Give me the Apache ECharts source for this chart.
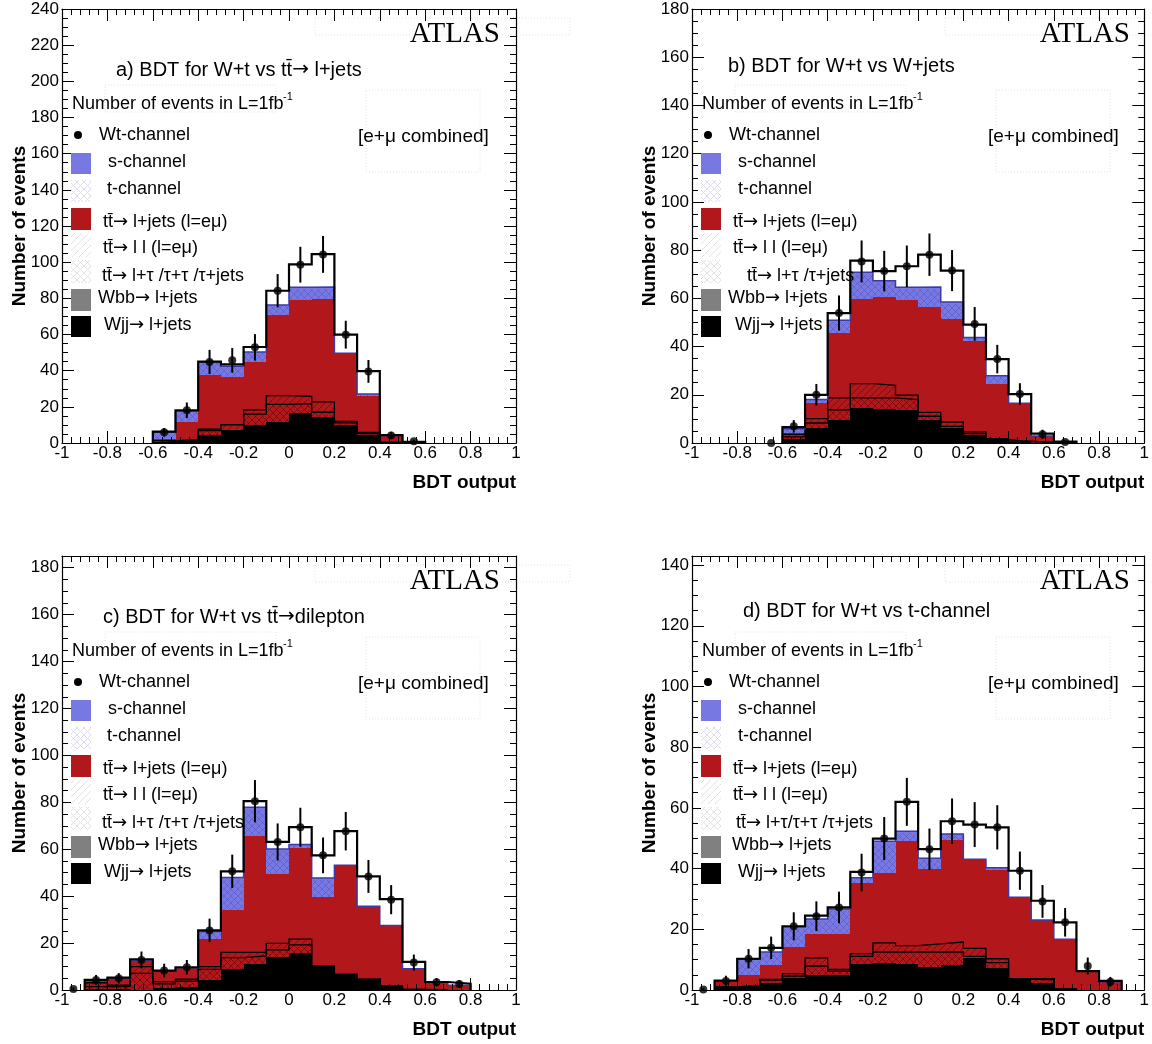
<!DOCTYPE html>
<html><head><meta charset="utf-8">
<script src="https://cdn.jsdelivr.net/npm/echarts@6/dist/echarts.min.js"></script>
<style>html,body{margin:0;padding:0;background:#fff}#c{width:1152px;height:1044px}</style>
</head><body><div id="c"></div><script>
// ---------------- DATA ----------------
const binLow = [-1.0,-0.9,-0.8,-0.7,-0.6,-0.5,-0.4,-0.3,-0.2,-0.1,0.0,0.1,0.2,0.3,0.4,0.5,0.6,0.7,0.8,0.9];
const binWidth = 0.1;
const xTickLabels = ['-1','-0.8','-0.6','-0.4','-0.2','0','0.2','0.4','0.6','0.8','1'];

// panel a) BDT for W+t vs ttbar -> l+jets
const aWjj  = [0,0,0,0,0.3,1.3,4.2,6.4,10.0,11.8,16.6,14.4,9.8,4.2,0.2,0,0,0,0,0];
const aWbb  = [0,0,0,0,0,0,0,0,0,0,0,0,0,0,0,0,0,0,0,0];
const aTtTau= [0,0,0,0,0.5,0.2,2.6,0.4,6.0,9.6,5.2,2.6,1.3,1.0,0.1,0,0,0,0,0];
const aTtLL = [0,0,0,0,0.5,0.3,0.9,3.3,2.4,4.8,4.0,5.7,0.9,0.7,0.1,0.1,0,0,0,0];
const aTtLJ = [0,0,0,0,1.1,9.6,30.1,26.2,26.6,44.6,53.3,56.7,37.4,19.9,3.7,0.4,0,0,0,0];
const aTch  = [0,0,0,0,3.2,5.5,6.2,5.5,4.6,4.7,6.0,5.9,0.1,1.0,0.1,0,0,0,0,0];
const aSch  = [0,0,0,0,0.4,0.6,0.8,0.7,0.7,0.8,1.0,1.0,0.1,0.3,0,0,0,0,0,0];
const aWt   = [0,0,0,0,0.3,0.6,0.2,1.0,2.8,7.9,12.7,18.2,10.3,12.7,0.1,0.1,0,0,0,0];
const aData = [null,null,null,null,5.9,18.1,44.8,45.7,52.9,84.2,98.6,104.3,59.9,39.6,4.2,0.9,null,null,null,null];
const aErr  = [0,0,0,0,2.4,4.3,6.7,6.8,7.3,9.2,9.9,10.2,7.7,6.3,2.0,0.9,0,0,0,0];

// panel b) BDT for W+t vs W+jets
const bWjj  = [0,0,0,0,1.5,6.2,9.4,14.5,14.2,13.8,9.4,6.2,3.5,1.1,0.5,0.1,0,0,0,0];
const bWbb  = [0,0,0,0,0,0,0,0,0,0,0,0,0,0,0,0,0,0,0,0];
const bTtTau= [0,0,0,0,1.0,2.1,4.4,4.2,4.5,4.2,1.7,0.7,0.4,0.3,0.1,0.1,0,0,0,0];
const bTtLL = [0,0,0,0,1.1,1.8,4.9,5.9,5.2,1.8,1.6,1.8,0.7,0.4,0.2,0.1,0.1,0,0,0];
const bTtLJ = [0,0,0,0,0.5,6.5,26.9,35.3,36.7,39.4,43.7,42.9,37.8,22.8,15.5,2.5,0.4,0,0,0];
const bTch  = [0,0,0,0,1.5,1.1,4.5,9.7,5.8,4.6,7.3,6.0,1.1,2.8,0.1,0.1,0,0,0,0];
const bSch  = [0,0,0,0,0.3,0.3,0.8,1.2,0.9,0.8,1.0,0.9,0.3,0.5,0.1,0,0,0,0,0];
const bWt   = [0,0,0,0,0.7,2.0,3.0,4.8,4.0,8.7,13.4,13.0,5.3,6.9,3.8,1.0,0.1,0,0,0];
const bData = [null,null,null,0,6.9,20.0,53.9,75.3,71.3,73.3,78.1,71.5,49.4,34.8,20.3,3.6,0.4,null,null,null];
const bErr  = [0,0,0,0,2.6,4.5,7.3,8.7,8.4,8.6,8.8,8.5,7.0,5.9,4.5,1.9,0.6,0,0,0];

// panel c) BDT for W+t vs ttbar -> dilepton
const cWjj  = [0,0.3,0.3,0,0.7,1.4,4.3,9.1,11.0,14.2,15.7,10.0,6.4,4.3,1.4,0.2,0,0,0,0];
const cWbb  = [0,0,0,0,0,0,0,0,0,0,0,0,0,0,0,0,0,0,0,0];
const cTtTau= [0,1.1,1.1,7.1,1.9,2.4,4.5,4.7,3.5,2.9,3.5,0,0.2,0.2,0.2,0.1,0,0,0,0];
const cTtLL = [0,1.7,0.7,2.9,1.0,0.8,1.2,2.2,1.5,2.8,2.5,0.3,0.1,0.1,0.1,0,0.1,0,0,0];
const cTtLJ = [0,0.6,2.7,2.7,4.4,4.9,11.7,18.2,49.8,29.5,38.8,29.2,46.4,31.0,25.7,8.7,3.0,2.0,0,0];
const cTch  = [0,0,0,0,0,0,2.7,12.6,10.9,9.7,1.2,7.4,0.1,0.1,0.1,0.1,0,0,0,0];
const cSch  = [0,0,0,0,0,0,0.5,1.2,1.2,1.0,0.3,0.8,0,0,0,0,0,0,0,0];
const cWt   = [0,0.6,0.5,0.4,0.3,0.2,0.5,2.6,2.6,3.0,7.4,9.7,14.5,12.7,11.2,2.9,0.3,0.7,0,0];
const cData = [0.4,4.3,5.0,12.8,8.3,9.7,25.4,50.6,80.5,63.1,69.4,57.4,67.7,48.4,38.5,11.7,3.3,2.6,null,null];
const cErr  = [0.6,2.1,2.2,3.6,2.9,3.1,5.0,7.1,9.0,7.9,8.3,7.6,8.2,7.0,6.2,3.4,1.8,1.6,0,0];

// panel d) BDT for W+t vs t-channel
const dWjj  = [0,0.8,1.1,2.4,4.0,4.8,4.8,8.7,9.0,8.7,7.7,8.4,10.6,7.2,3.2,2.4,0.2,0,0,0];
const dWbb  = [0,0,0,0,0,0,0,0,0,0,0,0,0,0,0,0,0,0,0,0];
const dTtTau= [0,0.1,0.2,0.9,0.6,3.1,1.4,2.4,3.5,3.8,4.8,4.2,0.5,1.8,0.3,1.0,0.1,0,0,0];
const dTtLL = [0,0.1,0.2,0.2,0.8,2.7,0.6,0.9,3.0,2.1,2.7,3.2,2.6,1.3,0.2,0.3,0.1,0,0,0];
const dTtLJ = [0,2.0,3.6,4.9,8.7,8.0,11.7,23.4,23.2,34.4,24.6,33.6,29.3,29.3,26.8,19.3,16.2,6.2,2.7,0];
const dTch  = [0,0,4.4,3.6,6.0,4.2,7.4,1.3,9.3,2.8,3.1,1.6,0.1,0.5,0.1,0.1,0.1,0,0,0];
const dSch  = [0,0,0.6,0.5,0.7,0.6,0.8,0.3,1.0,0.5,0.5,0.4,0,0.2,0,0,0,0,0,0];
const dWt   = [0,0.1,0.2,1.4,0.2,1.1,0.5,1.9,0.9,9.7,3.0,4.2,11.4,13.3,8.7,6.3,5.6,0,0.3,0];
const dData = [0.2,3.0,10.3,13.9,21.0,24.3,27.2,38.7,49.9,62.0,46.4,55.6,54.5,53.6,39.3,29.2,22.3,7.9,2.7,null];
const dErr  = [0.4,1.7,3.2,3.7,4.6,4.9,5.2,6.2,7.1,7.9,6.8,7.5,7.4,7.3,6.3,5.4,4.7,2.8,1.6,0];

const panelTitles = ['a) BDT for W+t vs tt\u0304\u2192 l+jets','b) BDT for W+t vs W+jets','c) BDT for W+t vs tt\u0304\u2192dilepton','d) BDT for W+t vs t-channel'];
const tauLabels = ['tt\u0304\u2192 l+\u03c4 /\u03c4+\u03c4 /\u03c4+jets','tt\u0304\u2192 l+\u03c4 /\u03c4+jets','tt\u0304\u2192 l+\u03c4 /\u03c4+\u03c4 /\u03c4+jets','tt\u0304\u2192 l+\u03c4/\u03c4+\u03c4 /\u03c4+jets'];
const legendNames = ['Wt-channel','s-channel','t-channel','tt\u0304\u2192 l+jets (l=e\u03bc)','tt\u0304\u2192 l l (l=e\u03bc)',null,'Wbb\u2192 l+jets','Wjj\u2192 l+jets'];
const yMaxes = [240,180,185,143];

// ---------------- LAYOUT / STYLE ----------------
const layout = [
  {left:62, top:9, titleDx:54, titleDy:61, lx:[37,46,45,41,41,40,36,42]},
  {left:692, top:9, titleDx:36, titleDy:57, lx:[37,46,46,41,41,55,36,43]},
  {left:62, top:556, titleDx:41, titleDy:61, lx:[37,46,45,41,41,40,36,42]},
  {left:692, top:556, titleDx:51, titleDy:55, lx:[37,46,46,41,41,44,40,46]}
];
const W = 454, H = 434;
const FONT = '"Liberation Sans", Arial, Helvetica, sans-serif';
const RED = '#b2181b', BLUE = '#7878e2', DBLUE = '#3a3aa8', GREY = '#808080';

function makePattern(size, bg, color, lw, dirs) {
  const c = document.createElement('canvas'); c.width = size; c.height = size;
  const g = c.getContext('2d');
  if (bg) { g.fillStyle = bg; g.fillRect(0, 0, size, size); }
  g.strokeStyle = color; g.lineWidth = lw;
  dirs.forEach(d => {
    g.beginPath();
    if (d === '/') {
      g.moveTo(-1, size + 1); g.lineTo(size + 1, -1);
      g.moveTo(-1, 1); g.lineTo(1, -1);
      g.moveTo(size - 1, size + 1); g.lineTo(size + 1, size - 1);
    } else {
      g.moveTo(-1, -1); g.lineTo(size + 1, size + 1);
      g.moveTo(size - 1, -1); g.lineTo(size + 1, 1);
      g.moveTo(-1, size - 1); g.lineTo(1, size + 1);
    }
    g.stroke();
  });
  return c;
}
const patDiag = makePattern(7, null, 'rgba(80,0,0,0.5)', 1, ['/']);
const patCross = makePattern(7, null, 'rgba(80,0,0,0.5)', 1, ['/','\\']);
const patBlue = makePattern(7, null, 'rgba(60,60,170,0.3)', 1, ['/','\\']);
const patLegT = makePattern(7, '#fff', '#dcdcf0', 1, ['/','\\']);
const patLegLL = makePattern(7, '#fff', '#e2e2e2', 1, ['/']);
const patLegTau = makePattern(7, '#fff', '#e2e2e2', 1, ['\\','/']);
const pat = img => ({ type: 'pattern', image: img, repeat: 'repeat' });

const panels = [
  {comps:[aWjj,aWbb,aTtTau,aTtLL,aTtLJ,aTch,aSch,aWt], data:aData, err:aErr},
  {comps:[bWjj,bWbb,bTtTau,bTtLL,bTtLJ,bTch,bSch,bWt], data:bData, err:bErr},
  {comps:[cWjj,cWbb,cTtTau,cTtLL,cTtLJ,cTch,cSch,cWt], data:cData, err:cErr},
  {comps:[dWjj,dWbb,dTtTau,dTtLL,dTtLJ,dTch,dSch,dWt], data:dData, err:dErr}
];
const compNames = ['Wjj\u2192 l+jets','Wbb\u2192 l+jets','tt\u0304\u2192 l+\u03c4','tt\u0304\u2192 l l','tt\u0304\u2192 l+jets','t-channel','s-channel','Wt-channel'];
const compFill = ['#000', GREY, RED, RED, RED, BLUE, BLUE, '#fff'];
const compPat = [null, null, patCross, patDiag, null, patBlue, null, null];

function rectSeries(p, name, vals, base, fill, pattern, z) {
  const data = [];
  vals.forEach((v, i) => { if (v > 0) data.push([binLow[i], binLow[i] + binWidth, base[i], base[i] + v]); });
  return {
    type: 'custom', name, xAxisIndex: p, yAxisIndex: p, z, silent: true, animation: false,
    encode: { x: [0, 1], y: [2, 3] }, data,
    renderItem: (params, api) => {
      const a = api.coord([api.value(0), api.value(3)]);
      const b = api.coord([api.value(1), api.value(2)]);
      const x0 = Math.round(a[0]), x1 = Math.round(b[0]);
      const y0 = Math.round(a[1]), y1 = Math.round(b[1]);
      const shape = { x: x0, y: y0, width: x1 - x0, height: y1 - y0 };
      const children = [{ type: 'rect', shape, style: { fill } }];
      if (pattern) children.push({ type: 'rect', shape, style: { fill: pat(pattern) } });
      return { type: 'group', children };
    }
  };
}
function outlineSeries(p, name, cum, color, width, z) {
  let first = -1, last = -1;
  cum.forEach((v, i) => { if (v > 0) { if (first < 0) first = i; last = i; } });
  const pts = [[binLow[first], 0]];
  for (let i = first; i <= last; i++) { pts.push([binLow[i], cum[i]]); pts.push([binLow[i] + binWidth, cum[i]]); }
  pts.push([binLow[last] + binWidth, 0]);
  return { type: 'line', name, xAxisIndex: p, yAxisIndex: p, data: pts, symbol: 'none', z, silent: true, animation: false,
    lineStyle: { color, width, join: 'miter' } };
}

function richText(s, size) {
  return { text: s.replace(/\u2192/g, '{ar|\u2192}'), rich: { ar: { fontFamily: '"DejaVu Sans", sans-serif', fontSize: size, fill: '#000' } } };
}

const series = [], xAxes = [], yAxes = [], grids = [], graphics = [];
panels.forEach((P, p) => {
  const L = layout[p];
  grids.push({ left: L.left, top: L.top, width: W, height: H, containLabel: false });
  const cums = [];
  let run = binLow.map(() => 0);
  P.comps.forEach((vals, k) => {
    series.push(rectSeries(p, compNames[k], vals, run.slice(), compFill[k], compPat[k], 2));
    run = run.map((r, i) => r + vals[i]);
    cums.push(run.slice());
  });
  series.push(outlineSeries(p, 'tt l\u03c4 outline', cums[2], '#000', 1.3, 4));
  series.push(outlineSeries(p, 'tt ll outline', cums[3], '#000', 1.3, 4));
  series.push(outlineSeries(p, 's-channel outline', cums[6], DBLUE, 1.5, 4));
  series.push(outlineSeries(p, 'total', cums[7], '#000', 2.2, 5));
  const pts = [], ebs = [];
  P.data.forEach((v, i) => {
    if (v !== null) {
      pts.push([binLow[i] + binWidth / 2, v]);
      if (P.err[i] > 0) ebs.push([binLow[i] + binWidth / 2, v - P.err[i], v + P.err[i]]);
    }
  });
  series.push({ type: 'custom', name: 'Wt-channel data errors', xAxisIndex: p, yAxisIndex: p, z: 6, silent: true, animation: false,
    encode: { x: 0, y: [1, 2] }, data: ebs,
    renderItem: (params, api) => {
      const a = api.coord([api.value(0), Math.max(0, api.value(1))]);
      const b = api.coord([api.value(0), api.value(2)]);
      return { type: 'line', shape: { x1: a[0], y1: a[1], x2: b[0], y2: b[1] }, style: { stroke: '#000', lineWidth: 2 } };
    } });
  series.push({ type: 'scatter', name: 'Wt-channel', xAxisIndex: p, yAxisIndex: p, z: 7, silent: true, animation: false,
    data: pts, symbol: 'circle', symbolSize: 8, itemStyle: { color: '#000' } });

  const tickCommon = { inside: true, length: 12, lineStyle: { color: '#000', width: 1 } };
  xAxes.push({ gridIndex: p, type: 'value', min: -1, max: 1, interval: 0.2, position: 'bottom', z: 10,
    axisLine: { show: true, onZero: false, lineStyle: { color: '#000', width: 1.2 } },
    axisTick: tickCommon, minorTick: { show: true, splitNumber: 5, length: 6, lineStyle: { color: '#000', width: 1 } },
    splitLine: { show: false },
    axisLabel: { color: '#000', fontSize: 17, fontFamily: FONT, margin: 2,
      formatter: v => { const k = Math.round((v + 1) / 0.2); return xTickLabels[k] !== undefined ? xTickLabels[k] : ''; } },
    name: 'BDT output', nameLocation: 'end', nameGap: 0, nameMoveOverlap: false,
    nameTextStyle: { fontSize: 19, fontWeight: 'bold', fontFamily: FONT, color: '#000', align: 'right', verticalAlign: 'top', padding: [30, 0, 0, 0] } });
  yAxes.push({ gridIndex: p, type: 'value', min: 0, max: yMaxes[p], interval: 20, position: 'left', z: 10,
    axisLine: { show: true, onZero: false, lineStyle: { color: '#000', width: 1.2 } },
    axisTick: tickCommon, minorTick: { show: true, splitNumber: 4, length: 6, lineStyle: { color: '#000', width: 1 } },
    splitLine: { show: false },
    axisLabel: { color: '#000', fontSize: 17, fontFamily: FONT, margin: 3,
      formatter: v => (Math.abs(v % 20) < 1e-6 ? String(Math.round(v)) : '') },
    name: 'Number of events', nameLocation: 'middle', nameGap: 33, nameMoveOverlap: false,
    nameTextStyle: { fontSize: 19, fontWeight: 'bold', fontFamily: FONT, color: '#000' } });

  const lt = L.left, tp = L.top;
  const txt = (x, y, text, size, extra) => ({ type: 'text', x, y, silent: true, z: 20,
    style: Object.assign({ fontSize: size, fontFamily: FONT, fill: '#000', align: 'left', verticalAlign: 'middle' }, richText(text, size), extra || {}) });
  const box = (x, y, w, h) => ({ type: 'rect', silent: true, z: 1, shape: { x, y, width: w, height: h },
    style: { fill: null, stroke: '#e4e4e4', lineWidth: 1, lineDash: [1, 2] } });
  graphics.push(box(lt + 253, tp + 9, 255, 17));
  graphics.push(box(lt + 43, tp + 76, 171, 27));
  graphics.push(box(lt + 304, tp + 81, 114, 82));
  graphics.push(txt(lt + 438, tp + 25, 'ATLAS', 29, { fontFamily: '"Liberation Serif", "Times New Roman", serif', align: 'right' }));
  graphics.push(txt(lt + L.titleDx, tp + L.titleDy, panelTitles[p], 20));
  graphics.push(txt(lt + 10, tp + 95, 'Number of events in L=1fb', 18));
  graphics.push(txt(lt + 221, tp + 88, '-1', 11));
  graphics.push(txt(lt + 296, tp + 128, '[e+\u03bc combined]', 19));
  graphics.push({ type: 'circle', silent: true, z: 20, shape: { cx: lt + 16, cy: tp + 126, r: 4 }, style: { fill: '#000' } });
  const mk = (y, h, fill) => ({ type: 'rect', silent: true, z: 20, shape: { x: lt + 9, y: tp + y, width: 20, height: h }, style: { fill } });
  graphics.push(mk(144, 21, BLUE));
  graphics.push(mk(171, 22, pat(patLegT)));
  graphics.push(mk(199, 22, RED));
  graphics.push(mk(224, 24, pat(patLegLL)));
  graphics.push(mk(251, 23, pat(patLegTau)));
  graphics.push(mk(280, 22, GREY));
  graphics.push(mk(307, 21, '#000'));
  const ly = [126, 153, 180, 213, 239, 267, 289, 316];
  legendNames.forEach((n, k) => {
    const label = n === null ? tauLabels[p] : n;
    graphics.push(txt(lt + L.lx[k], tp + ly[k], label, 18));
  });
});
panels.forEach((P, p) => {
  xAxes.push({ gridIndex: p, type: 'value', min: -1, max: 1, interval: 0.2, position: 'top', z: 10,
    axisLine: { show: true, onZero: false, lineStyle: { color: '#000', width: 1.2 } },
    axisTick: { inside: true, length: 12, lineStyle: { color: '#000' } },
    minorTick: { show: true, splitNumber: 5, length: 6, lineStyle: { color: '#000' } },
    splitLine: { show: false }, axisLabel: { show: false } });
  yAxes.push({ gridIndex: p, type: 'value', min: 0, max: yMaxes[p], interval: 20, position: 'right', z: 10,
    axisLine: { show: true, onZero: false, lineStyle: { color: '#000', width: 1.2 } },
    axisTick: { inside: true, length: 12, lineStyle: { color: '#000' } },
    minorTick: { show: true, splitNumber: 4, length: 6, lineStyle: { color: '#000' } },
    splitLine: { show: false }, axisLabel: { show: false } });
});

const chart = echarts.init(document.getElementById('c'), null, { renderer: 'canvas' });
chart.setOption({
  backgroundColor: '#fff', animation: false,
  grid: grids, xAxis: xAxes, yAxis: yAxes, series,
  graphic: { elements: graphics }
});
</script></body></html>
